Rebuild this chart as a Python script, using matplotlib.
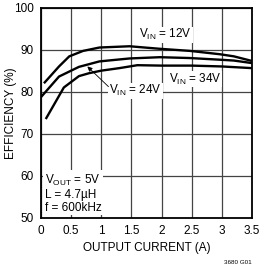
import matplotlib
matplotlib.use("Agg")
import matplotlib.pyplot as plt

plt.rcParams["font.family"] = ["Liberation Sans Narrow", "Liberation Sans", "DejaVu Sans"]
plt.rcParams["mathtext.default"] = "regular"

# data
i12 = [0.05, 0.3, 0.47, 0.7, 0.97, 1.47, 1.97, 2.47, 2.97, 3.2, 3.5]
e12 = [82.0, 86.0, 88.4, 89.7, 90.5, 90.8, 90.2, 89.7, 88.9, 88.4, 87.3]
i24 = [0.0, 0.3, 0.63, 0.97, 1.47, 1.97, 2.47, 2.97, 3.2, 3.5]
e24 = [78.7, 83.6, 85.9, 87.2, 87.9, 88.2, 88.0, 87.6, 87.4, 86.8]
i34 = [0.08, 0.38, 0.63, 0.8, 1.0, 1.3, 1.6, 2.0, 2.5, 3.0, 3.5]
e34 = [73.5, 81.0, 83.7, 84.4, 85.0, 85.6, 86.3, 86.2, 86.2, 86.0, 85.6]

xticks = [0, 0.5, 1, 1.5, 2, 2.5, 3, 3.5]
xtick_labels = ["0", "0.5", "1", "1.5", "2", "2.5", "3", "3.5"]
yticks = [50, 60, 70, 80, 90, 100]

fig = plt.figure(figsize=(2.59, 2.70), dpi=100)
ax = fig.add_axes([0.158, 0.193, 0.815, 0.779])

for i, e in ((i12, e12), (i24, e24), (i34, e34)):
    ax.plot(i, e, color="black", lw=1.7, solid_capstyle="butt", zorder=3)

ax.set_xlim(0, 3.5); ax.set_ylim(50, 100)
ax.set_xticks(xticks); ax.set_xticklabels(xtick_labels)
ax.set_yticks(yticks)
ax.grid(True, color="#444444", lw=0.9)
ax.tick_params(length=0, labelsize=8.5, pad=5)
for s in ax.spines.values():
    s.set_linewidth(1.3)

ax.set_xlabel("OUTPUT CURRENT (A)", fontsize=8.5, labelpad=4)
ax.set_ylabel("EFFICIENCY (%)", fontsize=8.5)
ax.yaxis.set_label_coords(-0.112, 0.5)

ax.text(1.63, 93.5, "V$_{IN}$ = 12V", fontsize=8.5, va="center", ha="left",
        bbox=dict(fc="white", ec="none", pad=0.5), zorder=4)
ax.text(2.12, 83.0, "V$_{IN}$ = 34V", fontsize=8.5, va="center", ha="left",
        bbox=dict(fc="white", ec="none", pad=0.5), zorder=4)
ax.text(1.13, 80.2, "V$_{IN}$ = 24V", fontsize=8.5, va="center", ha="left",
        bbox=dict(fc="white", ec="none", pad=0.5), zorder=4)
ax.annotate("", xy=(0.77, 86.0), xytext=(1.12, 81.2),
            arrowprops=dict(arrowstyle="-|>", color="black", lw=0.6,
                            mutation_scale=7, shrinkA=0, shrinkB=0), zorder=4)

ax.text(0.06, 55.9, "V$_{OUT}$ = 5V\nL = 4.7µH\nf = 600kHz", fontsize=8.5,
        va="center", ha="left", linespacing=1.1,
        bbox=dict(fc="white", ec="none", pad=1.0), zorder=4)

fig.text(0.97, 0.02, "3680 G01", fontsize=4.5, ha="right", va="bottom")

fig.savefig("out.png", dpi=100)
